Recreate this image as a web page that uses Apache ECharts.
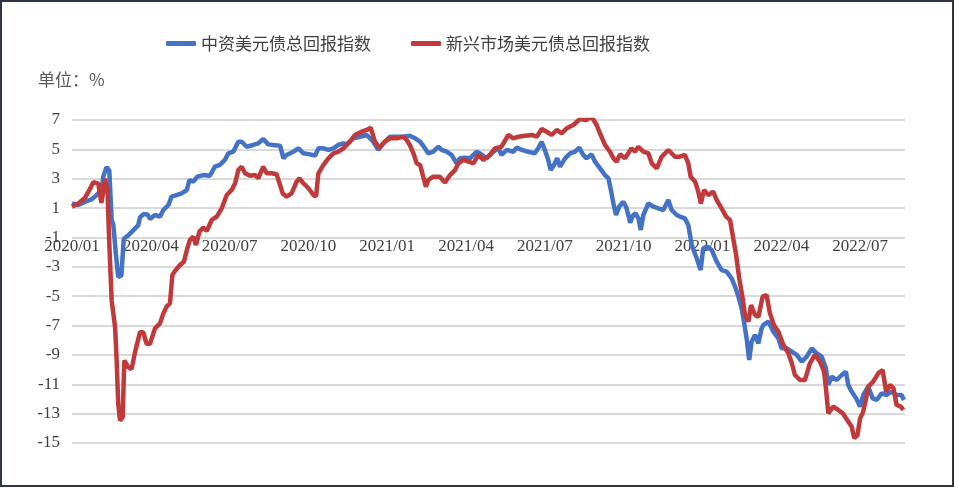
<!DOCTYPE html>
<html>
<head>
<meta charset="utf-8">
<script src="https://cdn.jsdelivr.net/npm/echarts@6/dist/echarts.min.js"></script>
<style>
  html, body { margin: 0; padding: 0; background: #fff; }
  #main { width: 955px; height: 488px; }
</style>
</head>
<body>
<div id="main"></div>
<script>
// x = months since 2020/01 (as laid out on the axis), y = return %
var cnX = [0.00, 0.24, 0.50, 0.75, 0.88, 1.00, 1.13, 1.20, 1.32, 1.42, 1.51, 1.57, 1.67, 1.76, 1.88, 1.97,
  2.14, 2.33, 2.52, 2.59, 2.72, 2.87, 2.97, 3.16, 3.35, 3.48, 3.67, 3.79, 3.98, 4.17, 4.37, 4.47, 4.62, 4.77,
  5.00, 5.06, 5.25, 5.44, 5.63, 5.82, 5.95, 6.14, 6.33, 6.46, 6.65, 6.90, 7.09, 7.28, 7.47, 7.66, 7.92, 8.05,
  8.17, 8.43, 8.62, 8.81, 9.06, 9.25, 9.38, 9.57, 9.76, 9.95, 10.14, 10.33, 10.45, 10.71, 10.96, 11.22, 11.47,
  11.66, 11.85, 12.10, 12.36, 12.61, 12.86, 13.06, 13.25, 13.44, 13.56, 13.75, 13.94, 14.07, 14.26, 14.45,
  14.64, 14.77, 14.96, 15.15, 15.40, 15.55, 15.78, 16.04, 16.23, 16.35, 16.55, 16.80, 16.93, 17.12, 17.37,
  17.62, 17.75, 17.88, 18.00, 18.13, 18.22, 18.35, 18.47, 18.58, 18.77, 18.96, 19.15, 19.31, 19.46, 19.59,
  19.78, 19.91, 20.10, 20.29, 20.42, 20.50, 20.61, 20.71, 20.83, 20.99, 21.11, 21.25, 21.35, 21.45, 21.56,
  21.65, 21.75, 21.94, 22.13, 22.32, 22.51, 22.70, 22.83, 23.02, 23.14, 23.33, 23.46, 23.59, 23.78, 23.93,
  24.03, 24.18, 24.35, 24.54, 24.73, 24.92, 25.11, 25.24, 25.37, 25.49, 25.58, 25.68, 25.78, 25.87, 26.00,
  26.13, 26.25, 26.32, 26.51, 26.70, 26.89, 27.01, 27.21, 27.40, 27.59, 27.78, 27.97, 28.16, 28.35, 28.54,
  28.70, 28.79, 28.92, 29.11, 29.30, 29.46, 29.55, 29.68, 29.85, 30.00, 30.12, 30.31, 30.48, 30.63, 30.82,
  31.01, 31.20, 31.39, 31.58, 31.67];
var cnY = [1.32, 1.21, 1.44, 1.60, 1.80, 2.00, 2.40, 3.20, 3.80, 3.56, 0.16, -0.07, -2.11, -3.70, -3.59, -1.09,
  -0.87, -0.52, -0.18, 0.38, 0.58, 0.58, 0.26, 0.53, 0.42, 0.87, 1.21, 1.78, 1.89, 2.00, 2.23, 2.91, 2.80, 3.14,
  3.25, 3.25, 3.20, 3.82, 3.94, 4.28, 4.73, 4.84, 5.52, 5.52, 5.18, 5.30, 5.41, 5.71, 5.34, 5.30, 5.25, 4.39,
  4.62, 4.84, 5.07, 4.73, 4.66, 4.57, 5.07, 5.07, 4.96, 5.07, 5.30, 5.41, 5.34, 5.75, 5.86, 5.98, 5.52,
  4.96, 5.41, 5.86, 5.86, 5.86, 5.93, 5.75, 5.52, 5.07, 4.73, 4.84, 5.18, 4.96, 4.84, 4.62,
  4.05, 4.39, 4.43, 4.39, 4.84, 4.70, 4.39, 4.84, 5.07, 4.62, 4.96, 4.84, 5.12, 4.96, 4.84,
  4.73, 5.07, 5.52, 4.96, 4.28, 3.59, 3.94, 4.39, 3.82, 4.39, 4.73, 4.84, 5.12, 4.62, 4.39,
  4.66, 4.16, 3.71, 3.25, 3.03, 2.35, 1.32, 0.53, 1.10, 1.44, 1.00, 0.00, 0.50, 0.64, 0.30,
  -0.49, 0.53, 1.32, 1.10, 0.98, 0.87, 1.55, 0.87, 0.53, 0.42, 0.30, -0.15, -1.51, -2.42, -3.22,
  -1.74, -1.62, -1.85, -2.65, -3.22, -3.33, -3.78, -4.35, -5.03, -5.83, -6.74, -7.87, -9.35, -8.10, -7.64,
  -8.21, -7.20, -6.96, -6.73, -7.42, -7.87, -8.55, -8.55, -8.78, -9.00, -9.46, -9.12, -8.55, -8.89, -9.12,
  -9.91, -11.05, -10.48, -10.71, -10.37, -10.14, -11.05, -11.50, -11.96, -12.52, -11.73, -11.16, -11.96, -12.07, -11.62,
  -11.73, -11.50, -11.73, -11.73, -12.07];

var emX = [0.00, 0.24, 0.50, 0.69, 0.81, 1.00, 1.12, 1.26, 1.35, 1.42, 1.51, 1.64, 1.70, 1.76, 1.83, 1.93,
  1.99, 2.14, 2.27, 2.40, 2.59, 2.71, 2.84, 2.97, 3.16, 3.35, 3.48, 3.60, 3.73, 3.82, 3.92, 4.11, 4.26, 4.39,
  4.49, 4.62, 4.72, 4.85, 5.00, 5.13, 5.32, 5.51, 5.70, 5.89, 6.08, 6.21, 6.33, 6.46, 6.59, 6.78, 6.97, 7.09,
  7.28, 7.41, 7.60, 7.79, 7.92, 8.02, 8.17, 8.36, 8.55, 8.66, 8.81, 9.00, 9.19, 9.29, 9.38, 9.57, 9.76, 9.95,
  10.14, 10.33, 10.58, 10.77, 11.02, 11.22, 11.37, 11.53, 11.70, 11.91, 12.10, 12.36, 12.61, 12.74, 12.86,
  13.02, 13.12, 13.25, 13.37, 13.47, 13.56, 13.75, 14.00, 14.20, 14.39, 14.58, 14.71, 14.90, 15.09, 15.28,
  15.47, 15.66, 15.91, 16.10, 16.35, 16.61, 16.80, 16.99, 17.24, 17.50, 17.69, 17.88, 18.07, 18.26, 18.45,
  18.64, 18.83, 19.08, 19.34, 19.57, 19.78, 19.97, 20.10, 20.29, 20.48, 20.61, 20.73, 20.86, 21.05, 21.30,
  21.43, 21.56, 21.75, 21.94, 22.07, 22.26, 22.45, 22.70, 22.95, 23.14, 23.33, 23.46, 23.55, 23.72, 23.84,
  23.94, 24.06, 24.22, 24.41, 24.54, 24.73, 24.90, 25.05, 25.17, 25.28, 25.40, 25.53, 25.62, 25.75, 25.85,
  26.00, 26.13, 26.29, 26.44, 26.57, 26.72, 26.89, 27.08, 27.27, 27.40, 27.52, 27.71, 27.90, 28.09, 28.28,
  28.47, 28.63, 28.70, 28.79, 28.98, 29.17, 29.34, 29.51, 29.68, 29.78, 29.90, 30.00, 30.12, 30.23, 30.31,
  30.50, 30.69, 30.86, 30.99, 31.14, 31.27, 31.39, 31.55, 31.65];
var emY = [1.10, 1.32, 1.71, 2.32, 2.77, 2.66, 1.35, 3.00, 2.20, -1.43, -5.29, -7.11, -9.38, -12.33, -13.47, -13.24,
  -9.38, -9.84, -9.95, -8.81, -7.45, -7.45, -8.24, -8.24, -7.19, -6.85, -6.17, -5.71, -5.49, -3.56, -3.28, -2.88, -2.65, -1.74,
  -1.17, -0.95, -1.51, -0.60, -0.33, -0.56, 0.19, 0.42, 0.98, 1.89, 2.23, 2.69, 3.59, 3.82, 3.37, 3.20, 3.25, 3.03,
  3.82, 3.37, 3.37, 3.30, 2.57, 2.00, 1.78, 2.00, 2.80, 3.03, 2.69, 2.35, 1.89, 1.78, 3.37, 3.94, 4.39, 4.73,
  4.84, 5.07, 5.52, 5.98, 6.20, 6.32, 6.48, 5.52, 5.12, 5.52, 5.75, 5.75, 5.86, 5.64, 5.30,
  4.62, 4.05, 3.94, 3.14, 2.46, 2.91, 3.14, 3.14, 2.75, 3.25, 3.59, 4.05, 4.28, 4.16, 4.05,
  4.62, 4.28, 4.62, 5.07, 5.18, 5.98, 5.75, 5.86, 5.93, 5.98, 5.86, 6.39, 6.20, 5.98, 6.32,
  6.09, 6.43, 6.66, 7.07, 7.00, 7.23, 6.66, 6.09, 5.30, 4.84, 4.39, 4.16, 4.66, 4.39, 5.07,
  4.84, 5.18, 4.84, 4.73, 4.05, 3.71, 4.50, 4.96, 4.50, 4.50, 4.62, 4.05, 3.14, 2.80, 2.12,
  1.32, 2.23, 1.89, 2.12, 1.55, 0.98, 0.42, 0.19, -1.06, -2.19, -3.78, -5.15, -6.28, -6.73, -5.60,
  -6.28, -6.40, -5.03, -4.92, -6.17, -6.96, -7.42, -8.32, -8.89, -9.57, -10.37, -10.71, -10.71, -9.57, -9.00,
  -9.46, -10.14, -11.27, -12.98, -12.52, -12.75, -12.98, -13.43, -13.89, -14.68, -14.46, -13.32, -12.86, -11.96, -11.16,
  -10.82, -10.26, -10.03, -11.50, -11.05, -11.27, -12.41, -12.52, -12.75];

var seriesNames = ['中资美元债总回报指数', '新兴市场美元债总回报指数'];
var colors = ['#4472c4', '#c0393b'];

function pairs(xs, ys) {
  var out = [];
  for (var i = 0; i < xs.length; i++) out.push([xs[i], ys[i]]);
  return out;
}

var chart = echarts.init(document.getElementById('main'));
var labelFont = 'Liberation Serif';

var option = {
  animation: false,
  color: colors,
  title: {
    text: '单位：%',
    left: 33,
    top: 66,
    textStyle: { fontSize: 17, fontWeight: 'normal', color: '#595959', fontFamily: 'Noto Sans CJK SC' }
  },
  legend: {
    data: seriesNames,
    left: 161,
    top: 30,
    icon: 'roundRect',
    itemWidth: 30,
    itemHeight: 5,
    itemGap: 40,
    textStyle: { fontSize: 17, color: '#404040', fontFamily: 'Noto Sans CJK SC' }
  },
  grid: { left: 72, right: 50, top: 120, bottom: 45 },
  xAxis: {
    type: 'value',
    min: 0,
    max: 31.71,
    interval: 3,
    // labels sit just under the zero line, as in the original
    offset: -220,
    axisLine: { show: false, onZero: false },
    axisTick: { show: false },
    splitLine: { show: false },
    axisLabel: {
      margin: 15,
      fontSize: 17,
      color: '#404040',
      fontFamily: labelFont,
      showMaxLabel: false,
      formatter: function (v) {
        var y = 2020 + Math.floor(v / 12);
        var m = Math.round(v % 12) + 1;
        return y + '/' + (m < 10 ? '0' + m : m);
      }
    }
  },
  yAxis: {
    type: 'value',
    min: -15,
    max: 7,
    interval: 1,
    axisLine: { show: false },
    axisTick: { show: false },
    splitLine: { lineStyle: { color: ['#d9d9d9', 'rgba(0,0,0,0)'], width: 2 } },
    axisLabel: {
      margin: 12,
      fontSize: 17,
      color: '#404040',
      fontFamily: labelFont,
      formatter: function (v) { return Math.abs(v % 2) === 1 ? String(v) : ''; }
    }
  },
  graphic: [{
    type: 'rect',
    shape: { x: 1, y: 1, width: 952, height: 485 },
    style: { fill: 'none', stroke: '#2f3545', lineWidth: 2 },
    silent: true
  }],
  series: [
    {
      name: seriesNames[0],
      type: 'line',
      showSymbol: false,
      data: pairs(cnX, cnY),
      lineStyle: { width: 4.5, color: colors[0] }
    },
    {
      name: seriesNames[1],
      type: 'line',
      showSymbol: false,
      data: pairs(emX, emY),
      lineStyle: { width: 4.5, color: colors[1] }
    }
  ]
};
chart.setOption(option);
</script>
</body>
</html>
